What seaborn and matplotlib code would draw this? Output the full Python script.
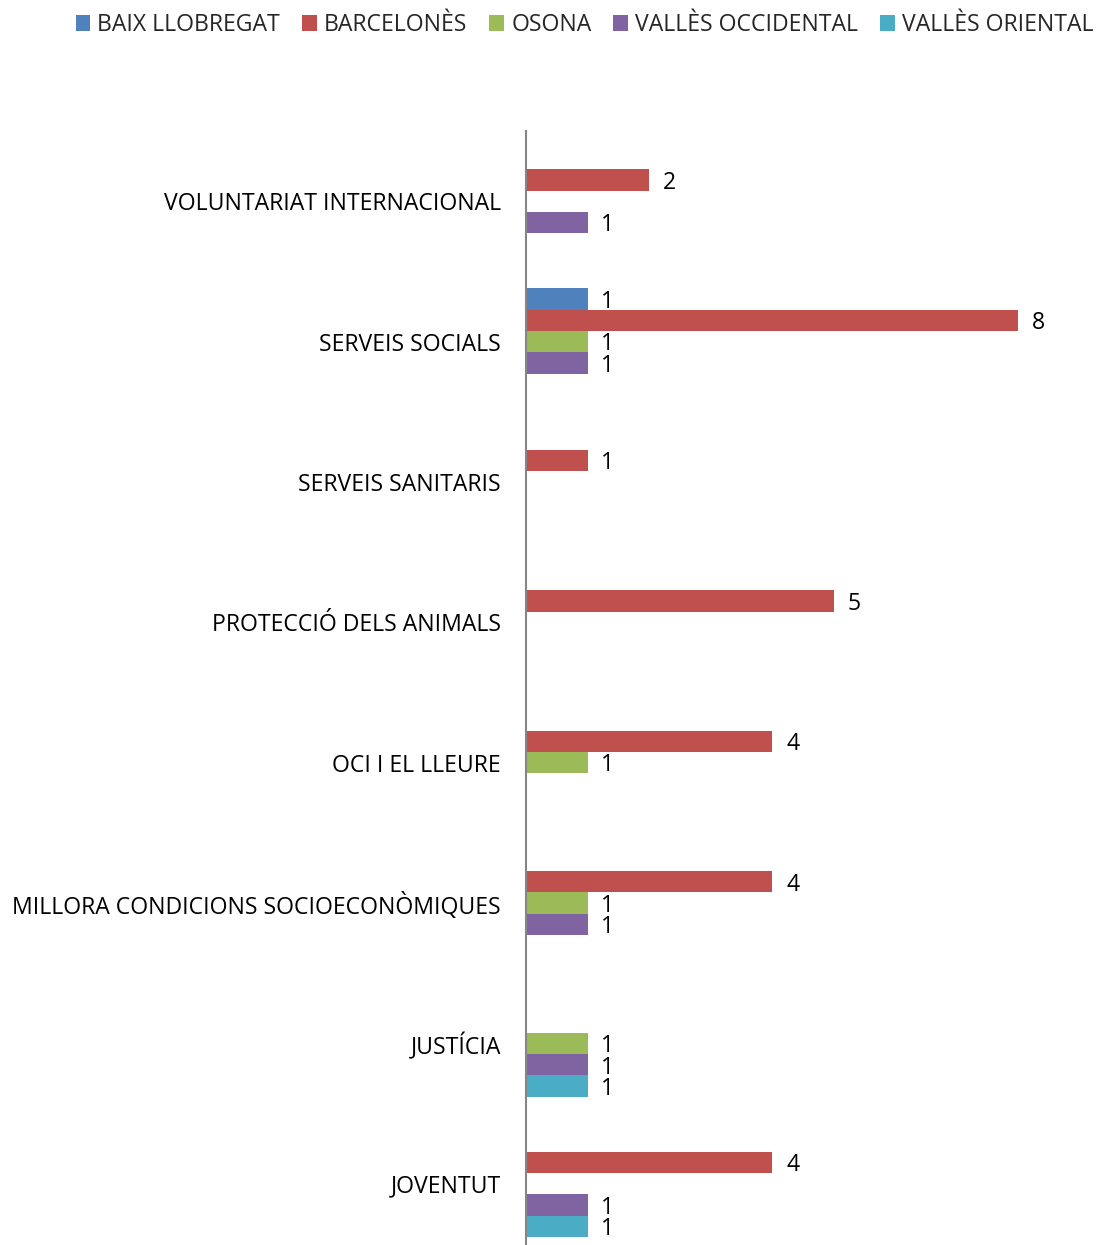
import matplotlib
matplotlib.use('Agg')
import matplotlib.pyplot as plt
import seaborn as sns
import pandas as pd
from matplotlib.patches import Patch

categories = ["VOLUNTARIAT INTERNACIONAL", "SERVEIS SOCIALS", "SERVEIS SANITARIS",
              "PROTECCIÓ DELS ANIMALS", "OCI I EL LLEURE",
              "MILLORA CONDICIONS SOCIOECONÒMIQUES", "JUSTÍCIA", "JOVENTUT"]
series = ["BAIX LLOBREGAT", "BARCELONÈS", "OSONA", "VALLÈS OCCIDENTAL", "VALLÈS ORIENTAL"]
baix = [0, 1, 0, 0, 0, 0, 0, 0]
barcelones = [2, 8, 1, 5, 4, 4, 0, 4]
osona = [0, 1, 0, 0, 1, 1, 1, 0]
valles_occ = [1, 1, 0, 0, 0, 1, 1, 1]
valles_or = [0, 0, 0, 0, 0, 0, 1, 1]
colors = ["#4F81BD", "#C0504D", "#9BBB59", "#8064A2", "#4BACC6"]

sns.set_theme(style='white')
plt.rcParams['font.family'] = ['Open Sans', 'DejaVu Sans']

rows = []
for s, vals in zip(series, [baix, barcelones, osona, valles_occ, valles_or]):
    for c, v in zip(categories, vals):
        rows.append({'cat': c, 'series': s, 'val': v})
df = pd.DataFrame(rows)

FS = 16.6
W, H = 1101, 1245
fig = plt.figure(figsize=(W / 100, H / 100), dpi=100)
ax = fig.add_axes([526 / W, (H - 1254) / H, (1080 - 526) / W, (1254 - 131) / H])

sns.barplot(data=df, y='cat', x='val', hue='series', order=categories, hue_order=series,
            palette=colors, orient='h', width=0.76, gap=0, ax=ax, legend=False,
            saturation=1, errorbar=None, linewidth=0)

ax.set_xlim(0, 9)
ax.set_ylim(7.5, -0.5)
ax.set_xlabel('')
ax.set_ylabel('')
ax.set_xticks([])
for sp in ['top', 'right', 'bottom']:
    ax.spines[sp].set_visible(False)
ax.spines['left'].set_color('#868686')
ax.spines['left'].set_linewidth(1.5)
ax.tick_params(axis='y', length=0, pad=18, labelsize=FS, labelcolor='black')

for cont in ax.containers:
    labels = [str(int(v)) if v > 0 else '' for v in cont.datavalues]
    texts = ax.bar_label(cont, labels=labels, padding=10, fontsize=FS, color='black')
    for t in texts:
        t.xyann = (10, -2)

handles = [Patch(facecolor=c, edgecolor='none') for c in colors]
fig.legend(handles, series, loc='center', bbox_to_anchor=(584.5 / W, 1 - 25 / H), ncol=5,
           frameon=False, handlelength=0.65, handleheight=0.65, handletextpad=0.3,
           columnspacing=0.95, fontsize=FS)

fig.savefig('out.png', dpi=100)
